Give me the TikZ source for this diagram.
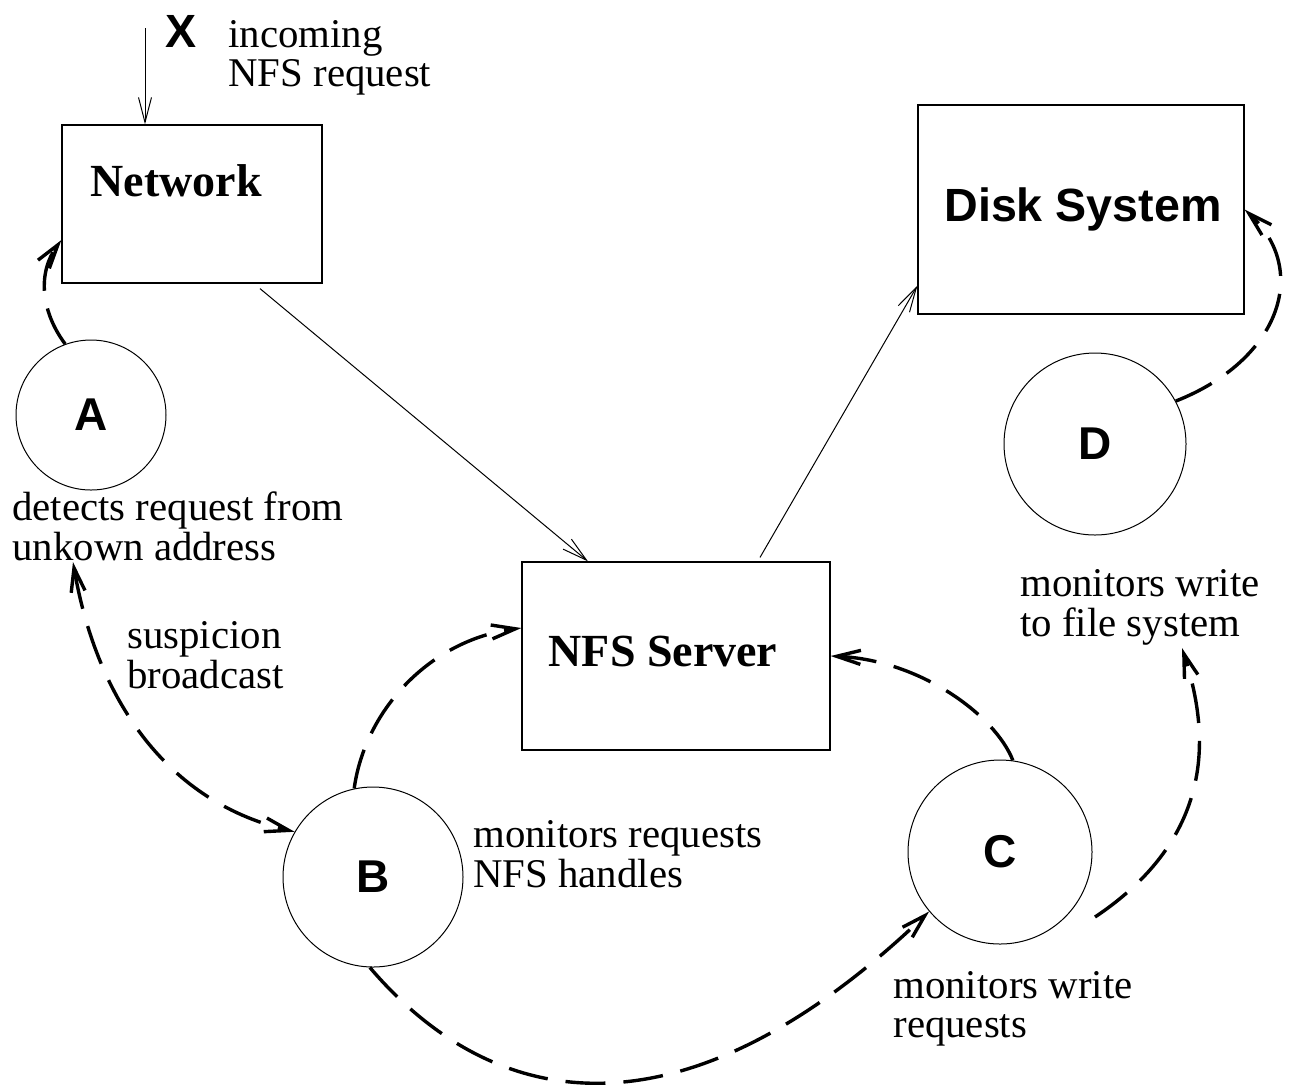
\documentclass[tikz,border=0pt]{standalone}
\usepackage{fontspec}
\setmainfont{Liberation Serif}
\setsansfont{Liberation Sans}
\usetikzlibrary{arrows.meta,calc}
\newcommand\twoline[2]{\begin{tabular}[t]{@{}l@{}}#1\\#2\end{tabular}}
\tikzset{
  box/.style={draw, line width=0.6pt, inner sep=0pt},
  circ/.style={draw, circle, line width=0.5pt, inner sep=0pt, font=\sffamily\bfseries\fontsize{23}{23}\selectfont},
  thinarrow/.style={line width=0.5pt, -{Straight Barb[length=12.5pt,width=6.5pt]}},
  dashline/.style={line width=1.7pt, dash pattern=on 20pt off 9pt},
  dasharrow/.style={dashline, -{Straight Barb[length=12pt,width=7pt]}},
  dashboth/.style={dashline, {Straight Barb[length=12pt,width=7pt]}-{Straight Barb[length=12pt,width=7pt]}},
  txt/.style={inner sep=0pt, font=\fontsize{20.4}{19.5}\selectfont},
  boldlab/.style={inner sep=0pt, font=\bfseries\fontsize{23}{23}\selectfont},
  sboldlab/.style={inner sep=0pt, font=\sffamily\bfseries\fontsize{23.3}{23}\selectfont}
}
\begin{document}
\begin{tikzpicture}[x=0.5pt,y=-0.5pt]
\useasboundingbox (0,0) rectangle (1299,1089);
% boxes
\node[box, minimum width=130pt, minimum height=79pt] (net) at (192,204) {};
\node[boldlab, anchor=base] (netlabel) at (176,196) {Network};
\node[box, minimum width=163pt, minimum height=104.5pt] (disk) at (1081,209.5) {};
\node[sboldlab, anchor=base] (disklabel) at (1083,221) {Disk System};
\node[box, minimum width=154pt, minimum height=94pt] (nfs) at (676,656) {};
\node[boldlab, anchor=base] (nfslabel) at (663,666) {NFS Server};
% circles
\node[circ, minimum size=75pt] (A) at (91,415) {A};
\node[circ, minimum size=90pt] (B) at (373,877) {B};
\node[circ, minimum size=92pt] (C) at (1000,852) {C};
\node[circ, minimum size=91pt] (D) at (1095,444) {D};
% texts
\node[sboldlab, anchor=base] (xlabel) at (181,47) {X};
\node[txt, anchor=base west] (xtext) at (228,47) {\twoline{incoming}{NFS request}};
\node[txt, anchor=base west] (atext) at (12,520) {\twoline{detects request from}{unkown address}};
\node[txt, anchor=base west] (stext) at (127,648) {\twoline{suspicion}{broadcast}};
\node[txt, anchor=base west] (btext) at (473,847) {\twoline{monitors requests}{NFS handles}};
\node[txt, anchor=base west] (ctext) at (893,998) {\twoline{monitors write}{requests}};
\node[txt, anchor=base west] (dtext) at (1020,596) {\twoline{monitors write}{to file system}};
% free ends
\coordinate (xin) at (145,28);
\coordinate (aq) at (73,562);
\coordinate (cs) at (1095,917);
\coordinate (fs) at (1182,648);
% thin arrows
\draw[thinarrow] (xin) -- (xin |- net.north);
\draw[thinarrow] ($(net.south)+(68,5)$) -- ($(nfs.north)+(-88,0)$);
\draw[thinarrow] ($(nfs.north)+(84,-4)$) -- ($(disk.south west)+(0,-29)$);
% dashed arrows
\draw[dasharrow] (A.110) .. controls (40,310) and (38,272) .. ($(net.west)+(0,36)$);
\draw[dashboth] (aq) .. controls (95,690) and (160,800) .. (B.150);
\draw[dasharrow] (B.102) .. controls (365,710) and (430,640) .. ($(nfs.west)+(0,-28)$);
\draw[dasharrow] (C.82) .. controls (995,715) and (920,660) .. (nfs.east);
\draw[dasharrow] (B.268) .. controls (500,1120) and (690,1140) .. (C.220);
\draw[dasharrow] (cs) .. controls (1225,830) and (1205,720) .. (fs);
\draw[dasharrow] (D.28) .. controls (1280,360) and (1310,270) .. (disk.east);
\end{tikzpicture}
\end{document}
